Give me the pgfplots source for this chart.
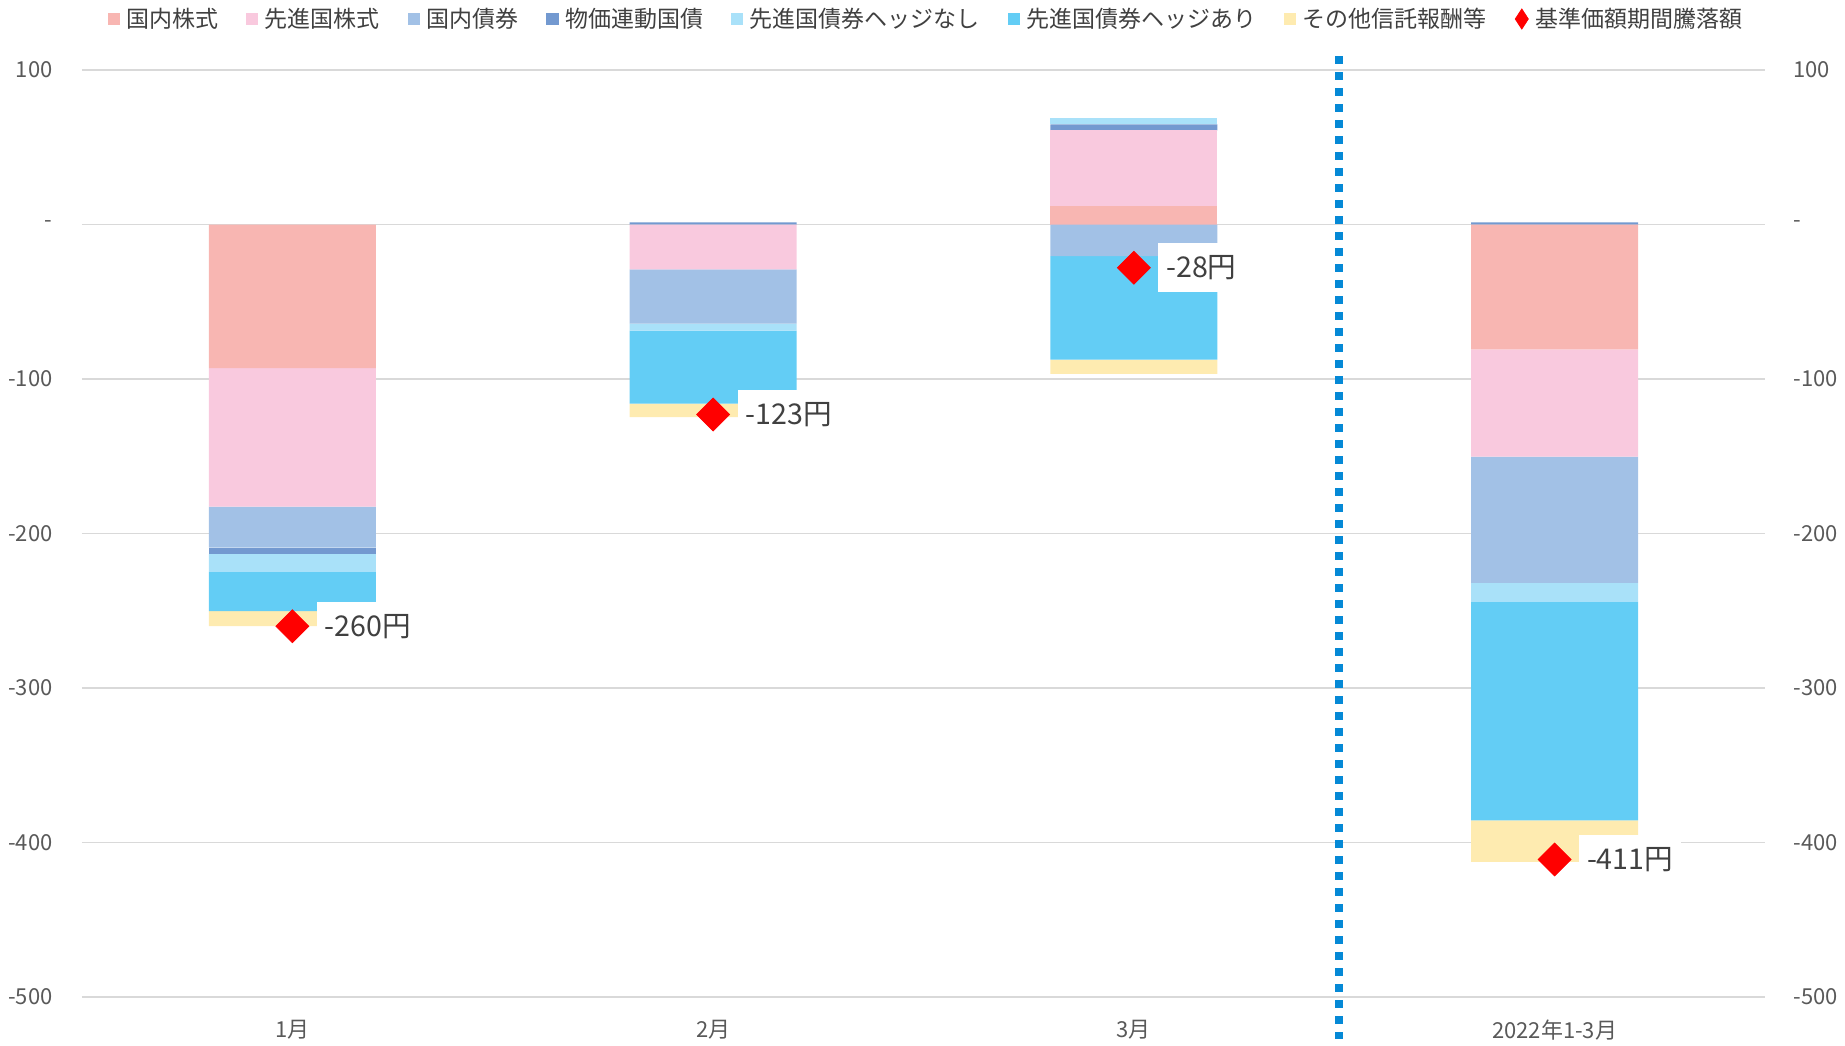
\documentclass[border=0pt]{standalone}
\usepackage{fontspec}
\setmainfont{Noto Sans CJK JP}
\usepackage{pgfplots}
\usepackage{pgfplotstable}
\pgfplotsset{compat=1.18}
\definecolor{cdk}{HTML}{F8B6B2}
\definecolor{csk}{HTML}{F9C9DE}
\definecolor{cdb}{HTML}{A2C1E6}
\definecolor{cbk}{HTML}{7399D0}
\definecolor{cun}{HTML}{A9E1F9}
\definecolor{che}{HTML}{63CDF5}
\definecolor{cot}{HTML}{FEEBB0}
\definecolor{lineblue}{HTML}{0589D6}
\definecolor{gridgray}{HTML}{D9D9D9}
\definecolor{tickgray}{HTML}{595959}
\definecolor{labgray}{HTML}{404040}

\pgfplotstableread{
x dk sk db bk un he ot
0 0 0 0 0 0 0 0
1 0 0 0 1.3 0 0 0
2 11.7 49.2 0 3.9 3.9 0 0
3 0 0 0 1.3 0 0 0
}\postab
\pgfplotstableread{
x dk sk db bk un he ot
0 -93.0 -89.6 -26.6 -4.1 -11.6 -25.4 -9.7
1 0 -29.1 -35.0 0 -4.6 -47.3 -8.6
2 0 0 -20.5 0 0 -66.9 -9.3
3 -80.8 -69.5 -81.7 0 -12.2 -141.4 -27.0
}\negtab
\pgfplotstableread{
x net
0 -260
1 -123
2 -28
3 -411
}\nettab

\pgfplotsset{
  base/.style={
    scale only axis, width=841.5pt, height=463.5pt,
    at={(0pt,0pt)}, anchor=south west,
    xmin=-0.5, xmax=3.5, ymin=-500, ymax=100,
    enlargelimits=false,
    major tick length=0pt,
    tick style={draw=none},
    tick label style={font=\fontsize{11}{13}\selectfont, text=tickgray},
  },
  bars/.style={ybar stacked, bar width=83.5pt},
}

\begin{document}
\begin{tikzpicture}
\useasboundingbox (-41pt,-24pt) rectangle (881.5pt,498.5pt);

% Axis A: grid, left ticks, x labels, positive parts, legend
\begin{axis}[base, bars,
  axis line style={draw=none},
  ymajorgrids, major grid style={color=gridgray, line width=0.9pt},
  ytick={-500,-400,-300,-200,-100,0,100},
  yticklabels={-500,-400,-300,-200,-100,-,100},
  yticklabel style={anchor=east, inner sep=0pt, xshift=-14.5pt},
  xtick={0,1,2,3},
  xticklabels={1月,2月,3月,2022年1-3月},
  xticklabel style={anchor=center, inner sep=0pt, yshift=-16.5pt},
  legend columns=-1,
  legend style={at={(axis description cs:0.5,1)}, anchor=center,
    xshift=1.5pt, yshift=25.5pt, draw=none, fill=none,
    font=\fontsize{11.5}{14}\selectfont, text=labgray,
    nodes={inner xsep=1.5pt, inner ysep=1.5pt},
    /tikz/every odd column/.append style={column sep=1.8pt},
    /tikz/every even column/.append style={column sep=12.5pt}},
  legend image code/.code={\fill[#1] (0pt,-3pt) rectangle (6pt,3pt);},
]
\addlegendimage{fill=cdk, draw=none}
\addlegendentry{国内株式}
\addlegendimage{fill=csk, draw=none}
\addlegendentry{先進国株式}
\addlegendimage{fill=cdb, draw=none}
\addlegendentry{国内債券}
\addlegendimage{fill=cbk, draw=none}
\addlegendentry{物価連動国債}
\addlegendimage{fill=cun, draw=none}
\addlegendentry{先進国債券ヘッジなし}
\addlegendimage{fill=che, draw=none}
\addlegendentry{先進国債券ヘッジあり}
\addlegendimage{fill=cot, draw=none}
\addlegendentry{その他信託報酬等}
\addlegendimage{legend image code/.code={\fill[red] (3.25pt,5pt) -- (6.5pt,0pt) -- (3.25pt,-5pt) -- (0pt,0pt) -- cycle;}}
\addlegendentry{基準価額期間騰落額}
\addplot[fill=cdk, draw=none, forget plot] table[x=x, y=dk] {\postab};
\addplot[fill=csk, draw=none, forget plot] table[x=x, y=sk] {\postab};
\addplot[fill=cdb, draw=none, forget plot] table[x=x, y=db] {\postab};
\addplot[fill=cbk, draw=none, forget plot] table[x=x, y=bk] {\postab};
\addplot[fill=cun, draw=none, forget plot] table[x=x, y=un] {\postab};
\addplot[fill=che, draw=none, forget plot] table[x=x, y=he] {\postab};
\addplot[fill=cot, draw=none, forget plot] table[x=x, y=ot] {\postab};
\end{axis}

% Axis B: negative parts
\begin{axis}[base, bars, hide axis]
\addplot[fill=cdk, draw=none] table[x=x, y=dk] {\negtab};
\addplot[fill=csk, draw=none] table[x=x, y=sk] {\negtab};
\addplot[fill=cdb, draw=none] table[x=x, y=db] {\negtab};
\addplot[fill=cbk, draw=none] table[x=x, y=bk] {\negtab};
\addplot[fill=cun, draw=none] table[x=x, y=un] {\negtab};
\addplot[fill=che, draw=none] table[x=x, y=he] {\negtab};
\addplot[fill=cot, draw=none] table[x=x, y=ot] {\negtab};
\end{axis}

% Axis C: right ticks, separator, net markers and labels
\begin{axis}[base, clip=false,
  axis line style={draw=none},
  xtick=\empty,
  ytick={-500,-400,-300,-200,-100,0,100},
  yticklabels={-500,-400,-300,-200,-100,-,100},
  yticklabel pos=right,
  yticklabel style={anchor=west, inner sep=0pt, xshift=14pt},
]
\addplot[color=lineblue, line width=4pt, dash pattern=on 4pt off 4pt] coordinates {(2.488,109) (2.488,-527)};
\addplot[only marks, mark=square*, mark size=5.8pt, mark options={rotate=45, fill=red, draw=red}] table[x=x, y=net] {\nettab};
\tikzset{netlab/.style={anchor=west, fill=white, inner xsep=4pt, inner ysep=0pt, minimum height=24.5pt, font=\fontsize{14.3}{16}\selectfont, text=labgray, xshift=12pt}}
\node[netlab] at (axis cs:0,-260) {-260円};
\node[netlab] at (axis cs:1,-123) {-123円};
\node[netlab] at (axis cs:2,-28) {-28円};
\node[netlab] at (axis cs:3,-411) {-411円};
\end{axis}
\end{tikzpicture}
\end{document}
